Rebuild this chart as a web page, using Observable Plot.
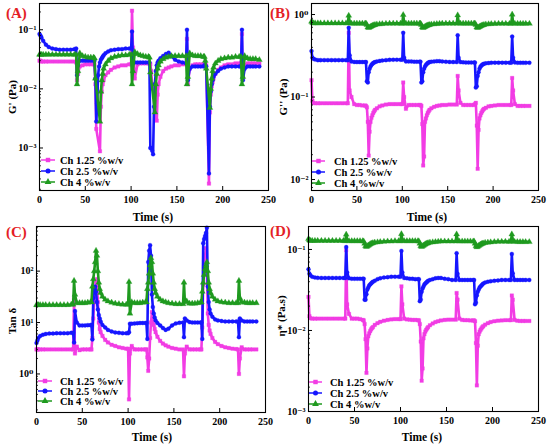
<!DOCTYPE html>
<html><head><meta charset="utf-8">
<script src="https://cdn.jsdelivr.net/npm/d3@7"></script>
<script src="https://cdn.jsdelivr.net/npm/@observablehq/plot@0.6"></script>
<style>
body{margin:0;background:#fff;}
#wrap{position:relative;width:550px;height:448px;overflow:hidden;background:#fff;font-family:"Liberation Serif","DejaVu Serif",serif;}
.plab{position:absolute;color:#e41e26;font-weight:bold;font-size:15px;line-height:15px;font-family:"Liberation Serif","DejaVu Serif",serif;}
</style></head><body><div id="wrap"></div>
<script>
// ---------- data ----------
const names = ["Ch 1.25 %w/v", "Ch 2.5 %w/v", "Ch 4 %w/v"];
const time = [
  [0,1,2,4,7,10,14,18,22,26,30,34,38],
  [40,41,42,44,47,50,53,56,59],
  [60,61,62,63,64,65,66,67,68,69,70,72,75,78,82,86,90,94,98],
  [100,101,102,104,107,110,113,116,119],
  [120,121,122,123,124,125,126,127,128,129,130,132,135,138,141,144,148,152,156],
  [160,161,162,164,167,170,173,176,179],
  [180,181,182,183,184,185,186,187,188,189,190,192,195,198,202,206,210,214,218],
  [220,221,222,224,227,230,233,236,240]
];
// (A) G'
const gp_125 = [
  [0.030,0.030,0.029,0.029,0.029,0.029,0.029,0.029,0.029,0.029,0.029,0.029,0.029],
  [0.028,0.014,0.018,0.024,0.025,0.026,0.026,0.026,0.026],
  [0.026,0.012,0.0021,null,null,null,0.00088,0.005,0.009,0.012,0.014,0.017,0.019,0.021,0.023,0.024,0.025,0.025,0.026],
  [0.026,0.21,0.05,0.015,0.026,0.027,0.027,0.027,0.027],
  [0.027,0.026,0.02,0.012,0.01,0.01,0.006,0.0035,0.0029,0.008,0.012,0.016,0.02,0.022,0.023,0.024,0.025,0.025,0.026],
  [0.026,0.07,0.012,0.022,0.025,0.026,0.026,0.026,0.026],
  [0.026,0.026,0.025,null,null,0.00025,0.004,0.008,0.011,0.013,0.015,0.018,0.021,0.023,0.025,0.026,0.026,0.027,0.027],
  [0.027,0.085,0.015,0.025,0.027,0.027,0.027,0.027,0.027]
];
const gp_25 = [
  [0.085,0.08,0.075,0.065,0.056,0.051,0.048,0.047,0.046,0.046,0.046,0.046,0.047],
  [0.048,0.017,0.025,0.03,0.03,0.03,0.03,0.03,0.03],
  [0.03,0.015,0.0028,0.0056,0.017,0.024,0.028,0.031,0.033,0.035,0.037,0.04,0.043,0.045,0.046,0.047,0.047,0.048,0.048],
  [0.048,0.093,0.03,0.028,0.028,0.028,0.028,0.028,0.028],
  [0.028,0.001,0.001,0.0009,0.00078,0.005,0.012,0.02,0.025,0.028,0.03,0.033,0.036,0.039,0.041,0.036,0.031,0.029,0.028],
  [0.027,0.1,0.014,0.022,0.024,0.024,0.024,0.024,0.024],
  [0.025,0.025,0.024,null,null,0.00037,0.005,0.009,0.012,0.014,0.016,0.018,0.02,0.022,0.023,0.024,0.024,0.024,0.024],
  [0.024,0.1,0.014,0.022,0.024,0.024,0.024,0.024,0.024]
];
const gp_4 = [
  [0.038,0.038,0.038,0.038,0.038,0.038,0.038,0.038,0.038,0.038,0.038,0.038,0.038],
  [0.038,0.012,0.02,0.04,0.036,0.035,0.034,0.034,0.034],
  [0.033,0.015,null,null,null,null,0.0028,0.009,0.014,0.018,0.022,0.026,0.03,0.033,0.035,0.036,0.037,0.037,0.038],
  [0.038,0.012,0.02,0.042,0.039,0.037,0.036,0.035,0.035],
  [0.034,0.019,null,null,null,null,0.004,0.012,0.018,0.022,0.025,0.029,0.032,0.034,0.035,0.036,0.036,0.036,0.036],
  [0.036,0.012,0.016,0.04,0.037,0.036,0.036,0.036,0.035],
  [0.035,0.03,0.022,null,null,null,0.0048,0.01,0.015,0.02,0.023,0.027,0.03,0.032,0.033,0.034,0.034,0.035,0.035],
  [0.035,0.012,0.016,0.036,0.033,0.032,0.032,0.032,0.031]
];
// (B) G''
const gpp_125 = [
  [0.16,0.09,0.085,0.084,0.084,0.084,0.084,0.084,0.084,0.084,0.084,0.084,0.084],
  [0.084,0.6,0.12,0.1,0.082,0.08,0.08,0.079,0.079],
  [0.078,0.075,0.05,0.0195,0.038,0.05,0.056,0.06,0.064,0.067,0.07,0.073,0.077,0.079,0.081,0.082,0.082,0.082,0.082],
  [0.082,0.15,0.1,0.072,0.08,0.08,0.08,0.08,0.08],
  [0.08,0.078,0.047,0.0148,0.019,0.05,0.055,0.06,0.064,0.067,0.07,0.073,0.076,0.078,0.079,0.08,0.08,0.081,0.081],
  [0.081,0.18,0.12,0.085,0.08,0.08,0.08,0.08,0.08],
  [0.082,0.085,0.045,0.0135,0.04,0.055,0.06,0.064,0.067,0.07,0.072,0.074,0.077,0.078,0.079,0.08,0.08,0.08,0.08],
  [0.08,0.17,0.12,0.082,0.078,0.078,0.078,0.078,0.078]
];
const gpp_25 = [
  [0.36,0.3,0.29,0.285,0.28,0.28,0.28,0.28,0.28,0.28,0.28,0.28,0.28],
  [0.28,0.69,0.32,0.27,0.266,0.265,0.265,0.265,0.265],
  [0.265,0.155,0.15,0.2,0.22,0.235,0.245,0.252,0.258,0.262,0.265,0.27,0.274,0.277,0.28,0.282,0.283,0.283,0.283],
  [0.283,0.6,0.3,0.27,0.27,0.27,0.268,0.268,0.268],
  [0.268,0.15,0.155,0.2,0.22,0.235,0.245,0.252,0.258,0.262,0.265,0.268,0.27,0.272,0.272,0.27,0.268,0.266,0.265],
  [0.265,0.56,0.3,0.265,0.263,0.262,0.262,0.262,0.262],
  [0.262,0.13,0.135,0.18,0.2,0.22,0.232,0.24,0.246,0.25,0.253,0.256,0.258,0.26,0.261,0.261,0.261,0.261,0.261],
  [0.261,0.54,0.3,0.262,0.26,0.26,0.26,0.26,0.26]
];
const gpp_4 = [
  [0.82,0.8,0.785,0.785,0.785,0.785,0.785,0.785,0.785,0.785,0.785,0.785,0.785],
  [0.785,0.97,0.8,0.78,0.78,0.78,0.78,0.78,0.78],
  [0.78,0.75,0.7,0.69,0.7,0.71,0.72,0.73,0.74,0.745,0.75,0.76,0.765,0.77,0.775,0.778,0.78,0.78,0.78],
  [0.78,0.99,0.8,0.78,0.78,0.78,0.78,0.78,0.78],
  [0.78,0.75,0.7,0.69,0.7,0.71,0.72,0.73,0.74,0.745,0.75,0.76,0.765,0.77,0.775,0.778,0.78,0.78,0.78],
  [0.78,0.98,0.8,0.78,0.78,0.78,0.78,0.78,0.78],
  [0.78,0.75,0.7,0.69,0.7,0.71,0.72,0.73,0.74,0.745,0.75,0.76,0.765,0.77,0.773,0.775,0.775,0.775,0.775],
  [0.775,1.0,0.8,0.775,0.775,0.775,0.775,0.775,0.775]
];
// (C) Tan delta
const tan_125 = [
  [3.0,3.0,3.0,3.0,3.0,3.0,3.0,3.0,3.0,3.0,3.0,3.0,3.0],
  [3.0,28,2.5,3.4,2.9,3.0,3.0,3.0,3.0],
  [3.0,5,12,25,40,60,70,25,10,7.5,6.5,5.5,4.6,4.1,3.7,3.5,3.3,3.2,3.1],
  [3.1,0.32,2.5,3.5,3.0,3.0,3.0,3.0,3.0],
  [3.0,2.1,1.15,2.0,5,10,16,12,9,7.5,6.5,5.3,4.4,3.9,3.6,3.4,3.2,3.1,3.0],
  [3.0,0.9,2.5,3.4,3.0,3.0,3.0,3.0,3.0],
  [3.0,8,55,120,200,280,100,15,9,7,6,5,4.2,3.8,3.5,3.3,3.2,3.1,3.05],
  [3.0,1.0,2.0,3.3,3.0,3.0,3.0,3.0,3.0]
];
const tan_25 = [
  [4.0,4.5,5.0,5.5,5.8,6.0,6.1,6.1,6.2,6.2,6.2,6.2,6.3],
  [6.3,4.1,16.7,10,8.8,8.8,8.8,8.9,8.9],
  [9.0,4.7,30,45,50,40,25,18,14,12,10.5,9,8,7.2,6.7,6.4,6.3,6.2,6.2],
  [6.2,6.5,9.5,9.5,9.6,9.7,9.8,9.8,9.8],
  [9.8,4.8,150,250,320,200,35,20,15,12.5,11,9.8,8.8,7.8,7.2,7.6,8.8,9.6,9.9],
  [10,5.2,12,11,10.2,10,10,10,10],
  [10,4.8,350,420,480,550,700,50,25,18,15,13,11.5,11,10.7,10.5,10.5,10.5,10.5],
  [10.5,5.2,12,11,10.5,10.5,10.5,10.5,10.5]
];
const tan_4 = [
  [22,22,22,22,22,22,22,22,22,22,22,22,22.5],
  [22.5,65,35,24,24,24,24,24.5,25],
  [25,50,70,100,150,250,200,100,60,45,38,32,28,26,24.5,23.5,23,22.5,22.5],
  [22.5,62,15,25,24,24,24,24.5,25],
  [25,45,60,90,130,180,150,90,60,45,38,32,28,26,25,24,23.5,23,23],
  [23,60,25,26,23.5,23.5,23.5,24,24.5],
  [25,40,60,85,110,130,150,100,60,45,38,32,28,26,25,24.5,24,24,24],
  [24,65,30,25,24.5,24,24,24,24]
];
// (D) complex viscosity
const eta_125 = [
  [0.026,0.015,0.0142,0.014,0.014,0.014,0.014,0.014,0.014,0.014,0.014,0.014,0.014],
  [0.014,0.098,0.021,0.016,0.014,0.014,0.014,0.0138,0.0135],
  [0.0133,0.012,0.0078,0.003,0.006,0.0085,0.0092,0.0098,0.0103,0.0107,0.011,0.0117,0.0123,0.0128,0.0132,0.0135,0.0137,0.0138,0.0138],
  [0.0138,0.035,0.021,0.014,0.0137,0.0136,0.0135,0.0135,0.0134],
  [0.0133,0.012,0.0073,0.0024,0.0034,0.008,0.009,0.0097,0.0102,0.0106,0.011,0.0116,0.0122,0.0127,0.013,0.0133,0.0135,0.0136,0.0136],
  [0.0136,0.029,0.024,0.014,0.0135,0.0134,0.0134,0.0133,0.0133],
  [0.0133,0.013,0.007,0.0021,0.0065,0.009,0.0097,0.0102,0.0106,0.011,0.0113,0.0118,0.0123,0.0127,0.013,0.0132,0.0133,0.0134,0.0134],
  [0.0134,0.027,0.024,0.0135,0.0132,0.0131,0.0131,0.0131,0.0131]
];
const eta_25 = [
  [0.057,0.05,0.048,0.046,0.045,0.0446,0.0445,0.0445,0.0445,0.0445,0.0445,0.0445,0.0445],
  [0.0445,0.107,0.052,0.044,0.0435,0.0435,0.0435,0.0435,0.0435],
  [0.0435,0.024,0.024,0.028,0.032,0.034,0.036,0.037,0.038,0.039,0.04,0.041,0.043,0.044,0.045,0.0455,0.046,0.046,0.046],
  [0.046,0.096,0.052,0.0445,0.044,0.0435,0.0435,0.043,0.043],
  [0.043,0.023,0.024,0.03,0.033,0.035,0.037,0.038,0.039,0.04,0.041,0.042,0.043,0.044,0.0445,0.0445,0.0435,0.043,0.042],
  [0.042,0.09,0.05,0.042,0.042,0.042,0.042,0.042,0.042],
  [0.042,0.021,0.022,0.027,0.03,0.032,0.034,0.035,0.036,0.037,0.038,0.039,0.04,0.0405,0.041,0.0415,0.042,0.042,0.042],
  [0.042,0.088,0.051,0.042,0.042,0.042,0.042,0.042,0.042]
];
const eta_4 = [
  [0.135,0.13,0.128,0.128,0.128,0.128,0.128,0.128,0.128,0.128,0.128,0.128,0.128],
  [0.127,0.153,0.13,0.127,0.127,0.127,0.127,0.127,0.127],
  [0.126,0.118,0.11,0.108,0.11,0.112,0.114,0.116,0.118,0.119,0.12,0.122,0.123,0.124,0.125,0.126,0.126,0.127,0.127],
  [0.127,0.155,0.13,0.127,0.127,0.127,0.127,0.127,0.127],
  [0.126,0.118,0.11,0.108,0.11,0.112,0.114,0.116,0.118,0.119,0.12,0.122,0.123,0.124,0.125,0.126,0.126,0.126,0.126],
  [0.126,0.154,0.13,0.126,0.126,0.126,0.126,0.126,0.126],
  [0.126,0.118,0.11,0.107,0.109,0.111,0.113,0.115,0.117,0.118,0.119,0.121,0.122,0.123,0.124,0.125,0.125,0.125,0.125],
  [0.125,0.154,0.13,0.125,0.124,0.124,0.124,0.124,0.124]
];
const xTicks = [0,50,100,150,200,250];

// ---------- drawing ----------
const PINK = "#f23ce4", BLUE = "#1616ff", GREEN = "#1f9a1f";
const styles = [
  {color: PINK, symbol: "square", r: 2.0, d3s: d3.symbolSquare},
  {color: BLUE, symbol: "circle", r: 2.0, d3s: d3.symbolCircle},
  {color: GREEN, symbol: "triangle", r: 2.2, d3s: d3.symbolTriangle}
];
const FONT = "'Liberation Serif','DejaVu Serif',serif";
const supMap = {"-":"\u207B","0":"\u2070","1":"\u00B9","2":"\u00B2","3":"\u00B3"};
const fmtPow = d => "10" + String(Math.round(Math.log10(d))).split("").map(c => supMap[c]).join("");
function rowsOf(vals) {
  const out = [];
  time.forEach((seg, i) => seg.forEach((t, j) => {
    const v = vals[i] ? vals[i][j] : null;
    if (v != null) out.push({t, v});
  }));
  return out;
}
function minorTicks(lo, hi) {
  const out = [];
  for (let e = Math.floor(Math.log10(lo)); e <= Math.ceil(Math.log10(hi)); e++) {
    for (let k = 2; k <= 9; k++) { const v = k * Math.pow(10, e); if (v > lo && v < hi) out.push(v); }
  }
  return out;
}
const wrap = document.getElementById("wrap");

function panel(c) {
  const W = 275, H = 224;
  const iw = W - c.mL - c.mR, ih = H - c.mT - c.mB;
  const marks = [];
  c.series.forEach((vals, k) => {
    const st = styles[k], d = rowsOf(vals);
    marks.push(Plot.line(d, {x: "t", y: "v", stroke: st.color, strokeWidth: 2.6, strokeLinejoin: "round"}));
    marks.push(Plot.dot(d, {x: "t", y: "v", symbol: st.symbol, r: st.r, fill: st.color, stroke: st.color, strokeWidth: 0.3}));
  });
  marks.push(
    Plot.tickY(c.majors, {y: d => d, insetRight: iw - 4, stroke: "#000", strokeWidth: 1}),
    Plot.tickY(minorTicks(c.domain[0], c.domain[1]), {y: d => d, insetRight: iw - 2, stroke: "#000", strokeWidth: 0.8}),
    Plot.tickX(xTicks, {x: d => d, insetTop: ih - 4, stroke: "#000", strokeWidth: 1}),
    Plot.axisX({ticks: xTicks, tickSize: 0, tickPadding: 5, tickFormat: d => String(d), label: null}),
    Plot.axisY({ticks: c.majors, tickSize: 0, tickPadding: 3, tickFormat: fmtPow, label: null}),
    Plot.frame({stroke: "#000", strokeWidth: 1.1})
  );
  const chart = Plot.plot({
    width: W, height: H, marginLeft: c.mL, marginRight: c.mR, marginTop: c.mT, marginBottom: c.mB,
    x: {domain: [0, 250], label: null},
    y: {type: "log", domain: c.domain, label: null},
    style: {fontFamily: FONT, fontSize: "10px", fontWeight: "bold", color: "#000", background: "transparent", overflow: "visible"},
    marks
  });
  chart.style.position = "absolute";
  chart.style.left = c.left + "px";
  chart.style.top = c.top + "px";
  const g = d3.select(chart).append("g");
  // legend
  c.legend.ys.forEach((y, k) => {
    const st = styles[k];
    g.append("line").attr("x1", c.legend.x1).attr("x2", c.legend.x2).attr("y1", y).attr("y2", y)
      .attr("stroke", st.color).attr("stroke-width", 1.5);
    g.append("path").attr("d", d3.symbol(st.d3s, Math.PI * 2.5 * 2.5)())
      .attr("transform", `translate(${(c.legend.x1 + c.legend.x2) / 2},${y})`).attr("fill", st.color);
    g.append("text").attr("x", c.legend.xt).attr("y", y).attr("dy", "0.35em").attr("text-anchor", "start")
      .attr("font-size", 10.5).attr("font-weight", "bold").attr("fill", "#000").text(names[k]);
  });
  // axis titles
  g.append("text").attr("transform", `translate(${c.yl[0]},${c.yl[1]}) rotate(-90)`)
    .attr("text-anchor", "middle").attr("dy", "0.35em").attr("font-size", 11).attr("font-weight", "bold")
    .attr("fill", "#000").text(c.ylabel);
  g.append("text").attr("x", c.xl[0]).attr("y", c.xl[1]).attr("text-anchor", "middle").attr("dy", "0.35em")
    .attr("font-size", 11.5).attr("font-weight", "bold").attr("fill", "#000").text("Time (s)");
  wrap.appendChild(chart);
}

panel({left: 0, top: 0, mL: 39, mR: 7, mT: 3, mB: 34, domain: [0.000191, 0.278], majors: [0.001, 0.01, 0.1],
  series: [gp_125, gp_25, gp_4], ylabel: "G' (Pa)", yl: [12, 97], xl: [153, 217],
  legend: {x1: 41, x2: 55, xt: 60, ys: [160, 171, 182]}});
panel({left: 275, top: 0, mL: 36, mR: 12, mT: 3, mB: 34, domain: [0.00736, 1.36], majors: [0.01, 0.1, 1],
  series: [gpp_125, gpp_25, gpp_4], ylabel: "G'' (Pa)", yl: [8, 97], xl: [152, 217],
  legend: {x1: 37, x2: 50, xt: 59, ys: [161, 172, 183]}});
panel({left: 0, top: 224, mL: 36, mR: 10, mT: 2, mB: 36, domain: [0.178, 738], majors: [1, 10, 100],
  series: [tan_125, tan_25, tan_4], ylabel: "Tan \u03B4", yl: [12, 97], xl: [152, 213],
  legend: {x1: 38, x2: 52, xt: 60, ys: [157, 167, 177]}});
panel({left: 275, top: 224, mL: 33, mR: 12, mT: 2, mB: 37, domain: [0.001, 0.192], majors: [0.001, 0.01, 0.1],
  series: [eta_125, eta_25, eta_4], ylabel: "\u03B7* (Pa.s)", yl: [6, 92], xl: [147, 213],
  legend: {x1: 34, x2: 47, xt: 55, ys: [158, 169, 180]}});

// panel letters
[["(A)", 6, 6], ["(B)", 270, 6], ["(C)", 6, 225], ["(D)", 270, 224]].forEach(([t, x, y]) => {
  const d = document.createElement("div");
  d.className = "plab"; d.style.left = x + "px"; d.style.top = y + "px"; d.textContent = t;
  wrap.appendChild(d);
});
</script></body></html>
